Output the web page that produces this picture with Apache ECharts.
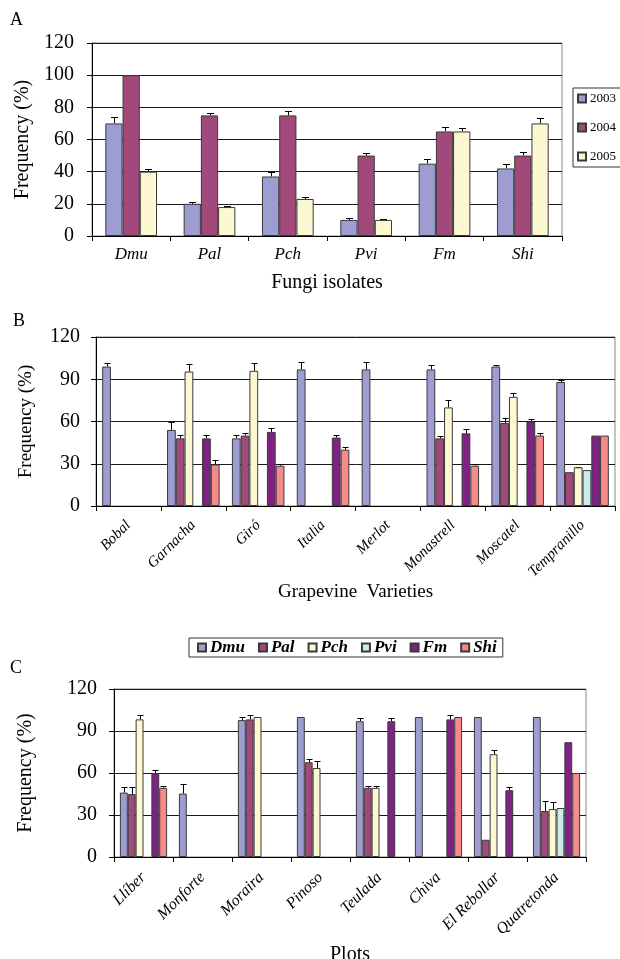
<!DOCTYPE html>
<html>
<head>
<meta charset="utf-8">
<title>Fungi frequency</title>
<script src="https://cdn.jsdelivr.net/npm/echarts@6/dist/echarts.min.js"></script>
<style>
  html, body { margin: 0; padding: 0; background: #fff; }
  #main { width: 620px; height: 959px; }
</style>
</head>
<body>
<div id="main"></div>
<script>
// ---- panel A : fungi isolates by year ----
var fungi = ['Dmu', 'Pal', 'Pch', 'Pvi', 'Fm', 'Shi'];
var years = ['2003', '2004', '2005'];
var a2003 = [70, 20, 37, 10, 45, 42];
var a2004 = [100, 75, 75, 50, 65, 50];
var a2005 = [40, 18, 23, 10, 65, 70];
var aErr2003 = [3.8, 1.2, 2.9, 0.9, 2.9, 2.7];
var aErr2004 = [0, 1.5, 2.5, 1.6, 2.5, 2.4];
var aErr2005 = [1.9, 0.6, 1.2, 0.4, 1.9, 3.4];

// ---- panel B : grapevine varieties ----
var varieties = ['Bobal', 'Garnacha', 'Giró', 'Italia', 'Merlot', 'Monastrell', 'Moscatel', 'Tempranillo'];
var bDmu = [99, 54, 48, 97, 97, 97, 99, 88];
var bPal = [0, 48, 50, 0, 0, 48, 59, 24];
var bPch = [0, 95.5, 96, 0, 0, 70, 77.5, 27.5];
var bPvi = [0, 0, 0, 0, 0, 0, 0, 25.5];
var bFm  = [0, 48, 52.6, 48.6, 0, 51.6, 60, 50];
var bShi = [0, 29.5, 28.6, 40, 0, 28.6, 50, 50];
var bErrDmu = [2.5, 5.5, 2.5, 5.5, 5.5, 2.8, 1, 1.8];
var bErrPal = [0, 2.2, 2, 0, 0, 1.6, 3.3, 0];
var bErrPch = [0, 5, 5.5, 0, 0, 5, 3, 0.4];
var bErrPvi = [0, 0, 0, 0, 0, 0, 0, 0];
var bErrFm  = [0, 2.7, 2.5, 1.6, 0, 3, 2, 0];
var bErrShi = [0, 3, 1.4, 2, 0, 1.2, 2, 0];

// ---- panel C : plots ----
var plots = ['Llíber', 'Monforte', 'Moraira', 'Pinoso', 'Teulada', 'Chiva', 'El Rebollar', 'Quatretonda'];
var cDmu = [46, 45.3, 97.8, 100, 97, 100, 100, 100];
var cPal = [45, 0, 98.3, 67.7, 49.4, 0, 12.3, 32.8];
var cPch = [98.3, 0, 100, 63.6, 49.4, 0, 73.4, 34.2];
var cPvi = [0, 0, 0, 0, 0, 0, 0, 35];
var cFm  = [60, 0, 0, 0, 97, 98.3, 47.7, 82];
var cShi = [49.4, 0, 0, 0, 0, 100, 0, 60];
var cErrDmu = [4, 6.7, 2.4, 0, 2.6, 0, 0, 0];
var cErrPal = [5, 0, 2.9, 2.1, 1.2, 0, 0, 7.5];
var cErrPch = [3.3, 0, 0, 5.2, 1.2, 0, 2.8, 5.3];
var cErrPvi = [0, 0, 0, 0, 0, 0, 0, 0];
var cErrFm  = [2.1, 0, 0, 0, 2.6, 3.3, 2.6, 0];
var cErrShi = [1.2, 0, 0, 0, 0, 0, 0, 0];

var yearColors = ['#9d9dd2', '#a2497b', '#fbf8d2'];
var fungiNames = ['Dmu', 'Pal', 'Pch', 'Pvi', 'Fm', 'Shi'];
var fungiColors = ['#9d9dd2', '#a2497b', '#fbf8d2', '#cdeaee', '#7e2383', '#f48a8a'];

var serif = 'Liberation Serif';
var myChart = echarts.init(document.getElementById('main'));

// bars: 0 means no bar
function barData(arr) {
    return arr.map(function (v) { return v === 0 ? '-' : v; });
}

// error bar (upper only) drawn in the slot of bar number idx out of n
function errorSeries(name, gridIdx, vals, errs, idx, n, gap, cap) {
    var data = [];
    for (var i = 0; i < vals.length; i++) {
        if (vals[i] > 0 && errs[i] > 0) data.push([i, vals[i], errs[i]]);
    }
    return {
        name: name,
        type: 'custom',
        xAxisIndex: gridIdx,
        yAxisIndex: gridIdx,
        silent: true,
        z: 1,
        data: data,
        renderItem: function (params, api) {
            var x = api.value(0), v = api.value(1), e = api.value(2);
            var p0 = api.coord([x, v]);
            var p1 = api.coord([x, v + e]);
            var band = api.size([1, 0])[0];
            var total = band * (1 - gap);
            var bw = total / n;
            var cx = Math.round(p0[0] - total / 2 + (idx + 0.5) * bw) + 0.5;
            var ty = Math.round(p1[1]) + 0.5;
            var st = { stroke: '#000', lineWidth: 1 };
            return {
                type: 'group',
                children: [
                    { type: 'line', shape: { x1: cx, y1: p0[1], x2: cx, y2: ty }, style: st },
                    { type: 'line', shape: { x1: cx - cap / 2, y1: ty, x2: cx + cap / 2, y2: ty }, style: st }
                ]
            };
        }
    };
}

function barSeries(name, gridIdx, vals, color, gap) {
    return {
        name: name,
        type: 'bar',
        xAxisIndex: gridIdx,
        yAxisIndex: gridIdx,
        barGap: '0%',
        barCategoryGap: (gap * 100) + '%',
        z: 2,
        itemStyle: { color: color, borderColor: '#3a3a3a', borderWidth: 1 },
        data: barData(vals)
    };
}

function yAxisOf(gridIdx, interval, size, margin, nameSize, gap) {
    return {
        type: 'value',
        gridIndex: gridIdx,
        min: 0,
        max: 120,
        interval: interval,
        name: 'Frequency (%)',
        nameLocation: 'middle',
        nameGap: gap,
        nameTextStyle: { fontFamily: serif, fontSize: nameSize, color: '#000' },
        axisLine: { show: true, lineStyle: { color: '#000', width: 1 } },
        axisTick: { show: true, length: 5, lineStyle: { color: '#000' } },
        axisLabel: { fontFamily: serif, fontSize: size, color: '#000', margin: margin },
        splitLine: { show: true, lineStyle: { color: '#1a1a1a', width: 1 } }
    };
}

function xAxisOf(gridIdx, cats, name, nameSize, gap, rotate, size, margin) {
    return {
        type: 'category',
        gridIndex: gridIdx,
        data: cats,
        name: name,
        nameLocation: 'middle',
        nameGap: gap,
        nameTextStyle: { fontFamily: serif, fontSize: nameSize, color: '#000' },
        axisLine: { lineStyle: { color: '#000', width: 1 } },
        axisTick: { show: true, length: 5, lineStyle: { color: '#000' } },
        axisLabel: {
            interval: 0,
            rotate: rotate,
            fontFamily: serif,
            fontStyle: 'italic',
            fontSize: size,
            color: '#000',
            margin: margin
        }
    };
}

var gapA = 0.34, gapB = 0.19, gapC = 0.2;
var series = [];

// panel A
var aVals = [a2003, a2004, a2005];
var aErrs = [aErr2003, aErr2004, aErr2005];
years.forEach(function (y, i) {
    series.push(barSeries(y, 0, aVals[i], yearColors[i], gapA));
});
years.forEach(function (y, i) {
    series.push(errorSeries('errA' + y, 0, aVals[i], aErrs[i], i, 3, gapA, 7));
});

// panel B
var bVals = [bDmu, bPal, bPch, bPvi, bFm, bShi];
var bErrs = [bErrDmu, bErrPal, bErrPch, bErrPvi, bErrFm, bErrShi];
fungiNames.forEach(function (f, i) {
    series.push(barSeries(f, 1, bVals[i], fungiColors[i], gapB));
});
fungiNames.forEach(function (f, i) {
    series.push(errorSeries('errB' + f, 1, bVals[i], bErrs[i], i, 6, gapB, 6));
});

// panel C
var cVals = [cDmu, cPal, cPch, cPvi, cFm, cShi];
var cErrs = [cErrDmu, cErrPal, cErrPch, cErrPvi, cErrFm, cErrShi];
fungiNames.forEach(function (f, i) {
    series.push(barSeries(f, 2, cVals[i], fungiColors[i], gapC));
});
fungiNames.forEach(function (f, i) {
    series.push(errorSeries('errC' + f, 2, cVals[i], cErrs[i], i, 6, gapC, 6));
});

var letterStyle = { fontFamily: serif, fontSize: 18, fontWeight: 'normal', color: '#000' };

var option = {
    backgroundColor: '#fff',
    animation: false,
    title: [
        { text: 'A', left: 10, top: 11, padding: 0, textStyle: letterStyle },
        { text: 'B', left: 13, top: 312, padding: 0, textStyle: letterStyle },
        { text: 'C', left: 10, top: 659, padding: 0, textStyle: letterStyle }
    ],
    legend: [
        {
            data: years,
            orient: 'vertical',
            left: 573,
            top: 88,
            padding: [4, 14, 4, 4],
            itemGap: 16,
            itemWidth: 8,
            itemHeight: 8,
            icon: 'rect',
            borderColor: '#333',
            borderWidth: 1,
            selectedMode: false,
            textStyle: { fontFamily: serif, fontSize: 13, color: '#000', padding: [0, 0, 0, -1] }
        },
        {
            data: fungiNames,
            orient: 'horizontal',
            left: 189,
            top: 638,
            padding: [1, 6, 1, 8],
            itemGap: 13,
            itemWidth: 8,
            itemHeight: 8,
            icon: 'rect',
            borderColor: '#333',
            borderWidth: 1,
            selectedMode: false,
            textStyle: { fontFamily: serif, fontSize: 17, fontStyle: 'italic', fontWeight: 'bold', color: '#000', padding: [0, 0, 0, -1] }
        }
    ],
    grid: [
        { left: 92, top: 43, width: 470, height: 193, outerBoundsMode: 'none', show: true, borderColor: '#888', borderWidth: 1, backgroundColor: 'transparent' },
        { left: 96, top: 337, width: 519, height: 169, outerBoundsMode: 'none', show: true, borderColor: '#888', borderWidth: 1, backgroundColor: 'transparent' },
        { left: 114, top: 689, width: 472, height: 168, outerBoundsMode: 'none', show: true, borderColor: '#888', borderWidth: 1, backgroundColor: 'transparent' }
    ],
    xAxis: [
        xAxisOf(0, fungi, 'Fungi isolates', 20, 37, 0, 17, 10),
        xAxisOf(1, varieties, 'Grapevine  Varieties', 19, 76, 45, 15, 17),
        xAxisOf(2, plots, 'Plots', 20, 88, 45, 16, 18)
    ],
    yAxis: [
        yAxisOf(0, 20, 20, 18, 20, 56),
        yAxisOf(1, 30, 20, 16, 19, 60),
        yAxisOf(2, 30, 20, 17, 20, 78)
    ],
    series: series
};

myChart.setOption(option);
window.addEventListener('resize', function () {
    myChart.resize();
});
</script>
</body>
</html>
